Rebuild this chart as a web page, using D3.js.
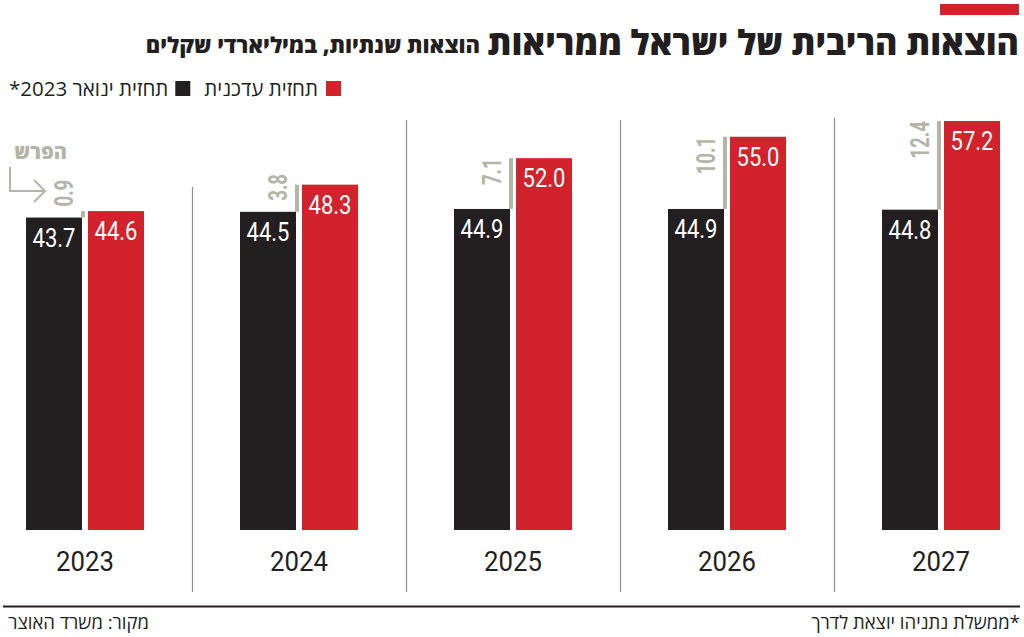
<!DOCTYPE html>
<html lang="he">
<head>
<meta charset="utf-8">
<script src="https://cdn.jsdelivr.net/npm/d3@7/dist/d3.min.js"></script>
<style>
  html, body { margin: 0; padding: 0; background: #fff; }
  svg { display: block; }
  text { font-family: "Open Sans", "Liberation Sans", "DejaVu Sans", sans-serif; }
  .num { font-family: Roboto, "Liberation Sans", sans-serif; }
</style>
</head>
<body>
<script>
// ---- data ----
const years = ["2023", "2024", "2025", "2026", "2027"];
const seriesNames = ["תחזית ינואר 2023*", "תחזית עדכנית"];
const janForecast = [43.7, 44.5, 44.9, 44.9, 44.8];
const updatedForecast = [44.6, 48.3, 52.0, 55.0, 57.2];
const gapValues = [0.9, 3.8, 7.1, 10.1, 12.4];
const titleText = "הוצאות הריבית של ישראל ממריאות";
const subtitleText = "הוצאות שנתיות, במיליארדי שקלים";
const gapTitle = "הפרש";
const noteText = "*ממשלת נתניהו יוצאת לדרך";
const sourceText = "מקור: משרד האוצר";

// ---- style ----
const RED = "#d2222b", BLACK = "#231f20", GREY = "#b4b4a7", SEP = "#8f8f8f";
const W = 1024, H = 637;

const svg = d3.select("body").append("svg").attr("width", W).attr("height", H);

// scales
const x0 = d3.scaleBand().domain(years).range([-22, 1048]).paddingInner(0).paddingOuter(0);
const x1 = d3.scaleBand().domain(["jan", "upd"])
  .range([x0.bandwidth() / 2 - 59, x0.bandwidth() / 2 + 59]).paddingInner(6 / 62);
const y = d3.scaleLinear().domain([0, 60]).range([530, 530 - 60 * 7.15]);

// top red tag
svg.append("rect").attr("x", 940).attr("y", 4).attr("width", 79).attr("height", 11).attr("fill", RED);

// title & subtitle
svg.append("text").attr("x", 1019).attr("y", 55).attr("direction", "rtl").attr("text-anchor", "start")
  .attr("font-size", 34).attr("font-weight", 800).attr("fill", BLACK).text(titleText);
svg.append("text").attr("x", 480).attr("y", 53).attr("direction", "rtl").attr("text-anchor", "start")
  .attr("font-size", 22).attr("font-weight", 800).attr("fill", BLACK).text(subtitleText);

// legend
const lg = svg.append("g");
lg.append("rect").attr("x", 326).attr("y", 81).attr("width", 15).attr("height", 15).attr("fill", RED);
const t1 = lg.append("text").attr("x", 318).attr("y", 96).attr("direction", "rtl").attr("text-anchor", "start")
  .attr("font-size", 20.5).attr("fill", BLACK).text(seriesNames[1]);
const w1 = t1.node().getComputedTextLength();
const bx = 318 - w1 - 14 - 15;
lg.append("rect").attr("x", bx).attr("y", 81).attr("width", 15).attr("height", 15).attr("fill", BLACK);
lg.append("text").attr("x", bx - 7).attr("y", 96).attr("direction", "rtl").attr("text-anchor", "start")
  .attr("font-size", 20.5).attr("fill", BLACK).text(seriesNames[0]);

// separators
const sepTops = [187, 120, 120, 118];
years.slice(1).forEach((yr, i) => {
  svg.append("line").attr("x1", x0(yr) + 0.5).attr("x2", x0(yr) + 0.5)
    .attr("y1", sepTops[i]).attr("y2", 592).attr("stroke", SEP).attr("stroke-width", 1.2);
});

// groups
const groups = svg.selectAll("g.grp").data(years).join("g").attr("class", "grp")
  .attr("transform", d => `translate(${x0(d)},0)`);

groups.each(function (yr, i) {
  const g = d3.select(this);
  const jv = janForecast[i], uv = updatedForecast[i];
  const jx = x1("jan"), ux = x1("upd"), bw = x1.bandwidth();
  g.append("rect").attr("x", jx).attr("y", y(jv)).attr("width", bw).attr("height", y(0) - y(jv)).attr("fill", BLACK);
  g.append("rect").attr("x", ux).attr("y", y(uv)).attr("width", bw).attr("height", y(0) - y(uv)).attr("fill", RED);

  // gap line
  const lx = jx + bw - 1;
  g.append("rect").attr("x", lx).attr("y", y(uv)).attr("width", 4).attr("height", Math.max(2, y(jv) - y(uv)))
    .attr("fill", GREY);

  // value labels
  [[jx, jv], [ux, uv]].forEach(([bxp, v]) => {
    g.append("text").attr("class", "num")
      .attr("transform", `translate(${bxp + bw / 2},${y(v) + 29}) scale(0.88,1)`)
      .attr("text-anchor", "middle").attr("font-size", 25).attr("fill", "#fff")
      .text(d3.format(".1f")(v));
  });

  // gap label (rotated)
  const gl = g.append("text").attr("class", "num").attr("font-size", 26).attr("font-weight", 700)
    .attr("fill", GREY).attr("text-anchor", "start").text(d3.format(".1f")(gapValues[i]));
  const len = gl.node().getComputedTextLength() * 0.72;
  const topY = Math.min(y(uv), y(jv) - 11 - len);
  gl.attr("transform", `translate(${lx - 8},${topY + len}) rotate(-90) scale(0.72,1)`);

  // year label
  g.append("text").attr("class", "num")
    .attr("transform", `translate(${x0.bandwidth() / 2},571) scale(0.92,1)`)
    .attr("text-anchor", "middle").attr("font-size", 28).attr("font-weight", 400).attr("fill", BLACK).text(yr);
});

// "difference" key for first group
const k = svg.append("g");
k.append("text").attr("x", 67).attr("y", 159).attr("direction", "rtl").attr("text-anchor", "start")
  .attr("font-size", 20).attr("font-weight", 800).attr("fill", GREY).text(gapTitle);
k.append("path").attr("d", "M10,167 V191 H44").attr("fill", "none").attr("stroke", GREY).attr("stroke-width", 2);
k.append("path").attr("d", "M34,180 L45,191 L34,202").attr("fill", "none").attr("stroke", GREY).attr("stroke-width", 2);

// bottom rule & footer
svg.append("line").attr("x1", 3).attr("x2", 1020).attr("y1", 606.5).attr("y2", 606.5)
  .attr("stroke", BLACK).attr("stroke-width", 2);
svg.append("text").attr("x", 1020).attr("y", 629).attr("direction", "rtl").attr("text-anchor", "start")
  .attr("font-size", 18.5).attr("fill", BLACK).text(noteText);
svg.append("text").attr("x", 149).attr("y", 629).attr("direction", "rtl").attr("text-anchor", "start")
  .attr("font-size", 18.5).attr("fill", BLACK).text(sourceText);
</script>
</body>
</html>
